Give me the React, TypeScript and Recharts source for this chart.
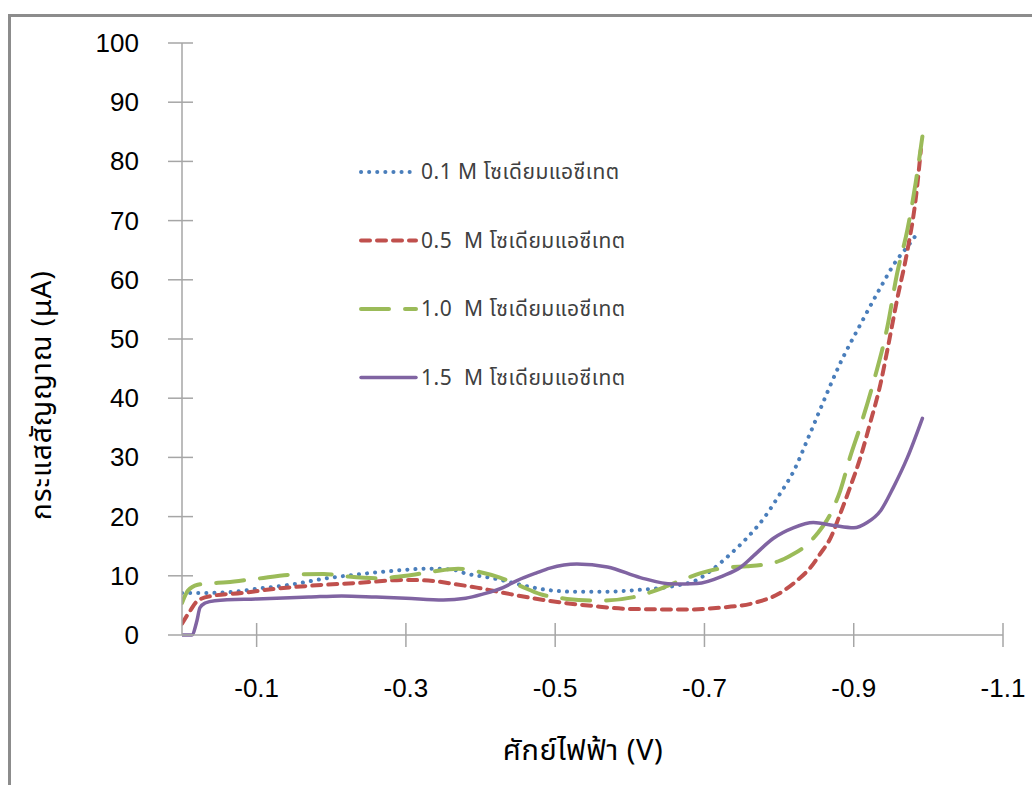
import { LineChart, Line, XAxis, YAxis } from 'recharts';

// Potential (V) and current (µA) for each sodium acetate concentration
const potential01 = [0, -0.03, -0.06, -0.1, -0.15, -0.19, -0.24, -0.28, -0.33, -0.36, -0.38, -0.42, -0.46, -0.49, -0.53, -0.56, -0.61, -0.66, -0.69, -0.71, -0.735, -0.757, -0.78, -0.8, -0.82, -0.84, -0.86, -0.88, -0.91, -0.935, -0.958, -0.972, -0.986];
const current01 = [7.1, 7.1, 7.2, 7.8, 8.6, 9.5, 10.3, 10.8, 11.2, 11.1, 10.4, 9.5, 8.3, 7.6, 7.3, 7.3, 7.6, 8.3, 9.3, 11.0, 13.7, 16.4, 19.8, 23.6, 27.8, 33.6, 39.6, 45.4, 52.7, 58.5, 63.4, 65.6, 68.0];

const potential05 = [0, -0.011, -0.021, -0.04, -0.08, -0.125, -0.17, -0.236, -0.3, -0.33, -0.36, -0.395, -0.44, -0.49, -0.55, -0.6, -0.68, -0.72, -0.766, -0.8, -0.824, -0.842, -0.855, -0.869, -0.882, -0.895, -0.909, -0.922, -0.936, -0.945, -0.958, -0.972, -0.983, -0.99];
const current05 = [1.9, 4.1, 5.8, 6.6, 7.1, 7.8, 8.3, 8.8, 9.3, 9.2, 8.7, 8.0, 6.9, 5.8, 4.9, 4.4, 4.3, 4.6, 5.4, 7.0, 9.2, 11.4, 13.7, 16.4, 20.5, 24.9, 30.0, 35.8, 42.5, 48.1, 56.6, 65.0, 73.6, 82.0];

const potential10 = [0, -0.008, -0.021, -0.035, -0.06, -0.1, -0.15, -0.19, -0.22, -0.26, -0.3, -0.335, -0.37, -0.4, -0.426, -0.453, -0.48, -0.516, -0.56, -0.605, -0.636, -0.67, -0.694, -0.73, -0.757, -0.78, -0.8, -0.815, -0.832, -0.851, -0.869, -0.882, -0.895, -0.909, -0.926, -0.945, -0.958, -0.972, -0.983, -0.992];
const current10 = [5.4, 7.5, 8.5, 8.7, 8.9, 9.5, 10.2, 10.3, 9.9, 9.6, 10.0, 10.7, 11.2, 10.6, 9.7, 8.3, 6.9, 6.1, 5.8, 6.4, 7.6, 9.3, 10.4, 11.4, 11.6, 11.9, 12.5, 13.4, 14.7, 17.1, 20.5, 24.4, 30.0, 35.3, 42.5, 52.0, 61.0, 68.5, 76.4, 84.2];

const potential15 = [0, -0.013, -0.02, -0.024, -0.031, -0.044, -0.1, -0.17, -0.214, -0.26, -0.3, -0.35, -0.38, -0.403, -0.43, -0.449, -0.475, -0.493, -0.529, -0.57, -0.614, -0.658, -0.69, -0.725, -0.748, -0.766, -0.792, -0.819, -0.846, -0.873, -0.9, -0.918, -0.936, -0.953, -0.972, -0.992];
const current15 = [0, 0, 2.4, 4.6, 5.4, 5.8, 6.1, 6.4, 6.6, 6.4, 6.2, 5.9, 6.2, 6.9, 8.0, 9.2, 10.5, 11.3, 12.0, 11.5, 9.7, 8.6, 8.7, 10.0, 11.4, 13.4, 16.3, 18.1, 19.0, 18.5, 18.1, 19.0, 21.0, 24.9, 30.0, 36.6];

const xTicks = [-0.1, -0.3, -0.5, -0.7, -0.9, -1.1];
const yTicks = [0, 10, 20, 30, 40, 50, 60, 70, 80, 90, 100];

const seriesLabels = [
  '0.1 M โซเดียมแอซีเทต',
  '0.5  M โซเดียมแอซีเทต',
  '1.0  M โซเดียมแอซีเทต',
  '1.5  M โซเดียมแอซีเทต',
];

const toPoints = (vs: number[], is: number[]) => vs.map((v, k) => ({ v, i: is[k] }));

const series = [
  { name: seriesLabels[0], data: toPoints(potential01, current01), color: '#4a7ebb', dash: '0.1 8', width: 4 },
  { name: seriesLabels[1], data: toPoints(potential05, current05), color: '#c0504d', dash: '9 7', width: 4 },
  { name: seriesLabels[2], data: toPoints(potential10, current10), color: '#9bbb59', dash: '28 16', width: 4 },
  { name: seriesLabels[3], data: toPoints(potential15, current15), color: '#8064a2', dash: undefined, width: 3.5 },
];

const NUM_FONT = "'Liberation Sans', Arial, sans-serif";
const THAI_FONT = "'Noto Sans Thai', 'Noto Sans', 'Liberation Sans', sans-serif";
const AXIS_GRAY = '#a6a6a6';

function YTick({ x, y, payload }: any) {
  return (
    <g>
      <line x1={x - 14} x2={x + 11} y1={y} y2={y} stroke={AXIS_GRAY} strokeWidth={1.5} />
      <text x={x - 43} y={y} dy={9} textAnchor="end" fontSize={26} fontFamily={NUM_FONT} fill="#000">
        {payload.value}
      </text>
    </g>
  );
}

function XTick({ x, y, payload }: any) {
  return (
    <g>
      <line x1={x} x2={x} y1={y - 12} y2={y + 12} stroke={AXIS_GRAY} strokeWidth={1.5} />
      <text x={x} y={y + 62} textAnchor="middle" fontSize={26} fontFamily={NUM_FONT} fill="#000">
        {payload.value}
      </text>
    </g>
  );
}

// Legend drawn as its own overlay so it does not eat into the plot area
function LegendBox() {
  return (
    <svg width={340} height={260} style={{ position: 'absolute', left: 354, top: 150 }}>
      {series.map((s, k) => {
        const cy = 22 + k * 68.5;
        return (
          <g key={s.name}>
            <line
              x1={7}
              x2={62}
              y1={cy}
              y2={cy}
              stroke={s.color}
              strokeWidth={s.width}
              strokeDasharray={s.dash}
              strokeLinecap="round"
            />
            <text
              x={67}
              y={cy}
              dy={7}
              fontSize={21}
              letterSpacing={0.5}
              fontFamily={THAI_FONT}
              fill="#404040"
              style={{ whiteSpace: 'pre' }}
            >
              {s.name}
            </text>
          </g>
        );
      })}
    </svg>
  );
}

export default function App() {
  return (
    <div style={{ position: 'absolute', left: 0, top: 0, width: 1032, height: 785, overflow: 'hidden', background: '#fff' }}>
      <div
        style={{
          position: 'absolute',
          left: 8,
          top: 14,
          width: 1100,
          height: 900,
          border: '3px solid #8c8c8c',
          boxSizing: 'border-box',
        }}
      />
      <div style={{ position: 'absolute', left: 0, top: 0 }}>
        <LineChart width={1032} height={785} margin={{ top: 43, right: 29, bottom: 70, left: 0 }}>
          <XAxis
            type="number"
            dataKey="v"
            domain={[-1.1, 0]}
            reversed
            ticks={xTicks}
            allowDataOverflow
            height={80}
            tickSize={0}
            tickMargin={0}
            tick={<XTick />}
            axisLine={{ stroke: AXIS_GRAY, strokeWidth: 1.5 }}
          />
          <YAxis
            type="number"
            dataKey="i"
            domain={[0, 100]}
            ticks={yTicks}
            width={182}
            tickSize={0}
            tickMargin={0}
            tick={<YTick />}
            axisLine={{ stroke: AXIS_GRAY, strokeWidth: 1.5 }}
          />
          {series.map((s) => (
            <Line
              key={s.name}
              data={s.data}
              dataKey="i"
              name={s.name}
              type="monotone"
              stroke={s.color}
              strokeWidth={s.width}
              strokeDasharray={s.dash}
              strokeLinecap="round"
              dot={false}
              activeDot={false}
              isAnimationActive={false}
            />
          ))}
          <text
            x={42}
            y={395}
            transform="rotate(-90 42 395)"
            textAnchor="middle"
            dominantBaseline="central"
            fontSize={28}
            letterSpacing={1}
            fontFamily={THAI_FONT}
            fill="#000"
          >
            กระแสสัญญาณ (μA)
          </text>
          <text x={583} y={760} textAnchor="middle" fontSize={29} letterSpacing={0.5} fontFamily={THAI_FONT} fill="#000">
            ศักย์ไฟฟ้า (V)
          </text>
        </LineChart>
      </div>
      <LegendBox />
    </div>
  );
}
